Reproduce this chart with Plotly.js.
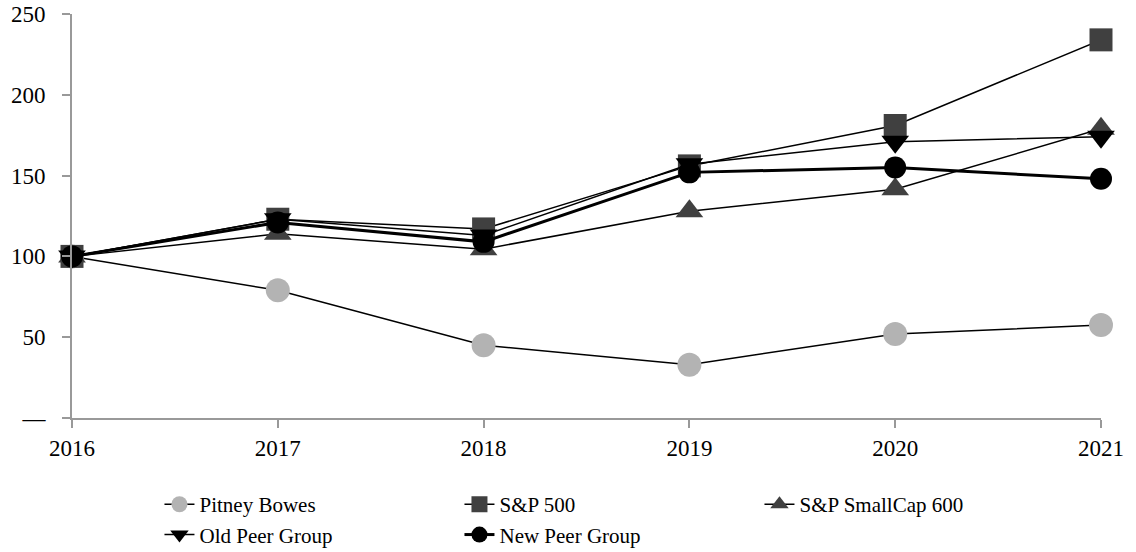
<!DOCTYPE html>
<html><head><meta charset="utf-8">
<script src="https://cdn.plot.ly/plotly-3.0.1.min.js"></script>
<style>html,body{margin:0;padding:0;background:#fff}#chart{width:1136px;height:552px}</style>
</head><body><div id="chart"></div>
<script>
const years = [2016, 2017, 2018, 2019, 2020, 2021];
const pitneyBowes = [100, 79, 45, 33, 52, 57.5];
const sp500 = [100, 123, 117, 156, 181, 234];
const smallCap600 = [100, 114, 104.5, 128, 141.5, 179];
const oldPeer = [100, 123, 113, 157, 171, 174];
const newPeer = [100, 121, 109, 152, 155, 148];
const yTickVals = [0, 50, 100, 150, 200, 250];
const yTickText = ['—', '50', '100', '150', '200', '250'];
const FONT = 'Liberation Serif';

function tr(name, y, sym, col, size, lw) {
  return {x: years, y: y, name: name, type: 'scatter', mode: 'lines+markers', cliponaxis: false,
    line: {color: '#000', width: lw}, marker: {symbol: sym, color: col, size: size, line: {width: 0}}};
}
const data = [
  tr('Pitney Bowes', pitneyBowes, 'circle', '#b3b3b3', 24, 1.5),
  tr('S&P 500', sp500, 'square', '#404040', 23, 1.5),
  tr('S&P SmallCap 600', smallCap600, 'triangle-up', '#404040', 24, 1.5),
  tr('Old Peer Group', oldPeer, 'triangle-down', '#000', 24, 1.5),
  tr('New Peer Group', newPeer, 'circle', '#000', 22, 3)
];
const layout = {
  width: 1136, height: 552,
  margin: {l: 72, r: 35, t: 14, b: 134},
  paper_bgcolor: '#fff', plot_bgcolor: '#fff',
  font: {family: FONT, size: 23, color: '#000'},
  showlegend: true,
  xaxis: {range: [2016, 2021], tickvals: years, ticktext: years.map(String), showgrid: false, zeroline: false,
    showline: true, linecolor: '#999', linewidth: 2, ticks: 'outside', ticklen: 8, tickcolor: '#999', tickwidth: 1.5,
    tickfont: {size: 23, family: FONT}, ticklabelstandoff: 0},
  yaxis: {range: [0, 250], tickvals: yTickVals, ticktext: yTickText, showgrid: false, zeroline: false,
    showline: true, linecolor: '#999', linewidth: 2, ticks: 'outside', ticklen: 8, tickcolor: '#999', tickwidth: 1.5,
    tickfont: {size: 23, family: FONT}, ticklabelstandoff: 12},
  legend: {orientation: 'h', x: 0.085, xanchor: 'left', yref: 'container', y: 0.123, yanchor: 'top',
    entrywidth: 255, entrywidthmode: 'pixels', font: {size: 21, family: FONT},
    traceorder: 'normal', tracegroupgap: 0}
};
Plotly.newPlot('chart', data, layout, {displayModeBar: false});
</script></body></html>
